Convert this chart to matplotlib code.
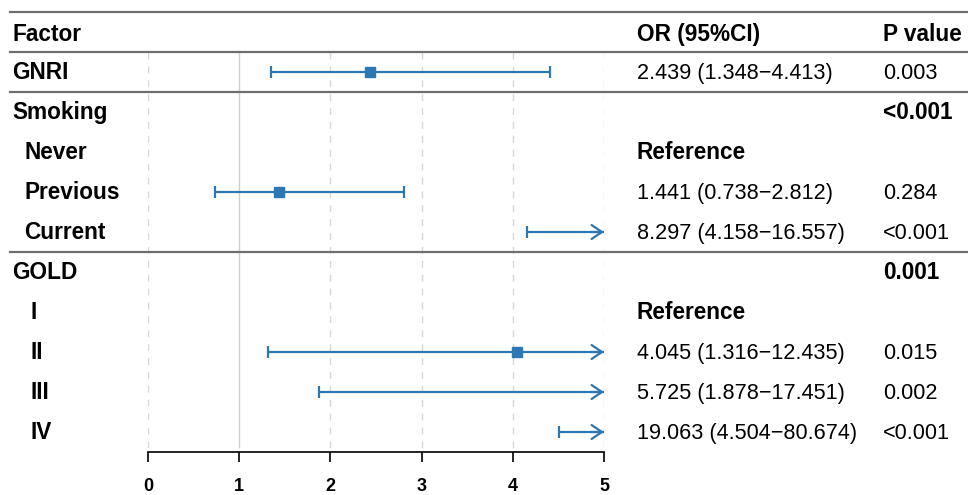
import numpy as np
import matplotlib
matplotlib.use("Agg")
import matplotlib.pyplot as plt
from matplotlib.transforms import blended_transform_factory

plt.rcParams['font.family'] = ['Liberation Sans', 'DejaVu Sans']

# Table content
labels = ['GNRI', 'Smoking', 'Never', 'Previous', 'Current',
          'GOLD', 'I', 'II', 'III', 'IV']
level = [0, 0, 1, 1, 1, 0, 2, 2, 2, 2]
is_ref = [False, False, True, False, False, False, True, False, False, False]
odds = [2.439, np.nan, np.nan, 1.441, 8.297, np.nan, np.nan, 4.045, 5.725, 19.063]
ci_lo = [1.348, np.nan, np.nan, 0.738, 4.158, np.nan, np.nan, 1.316, 1.878, 4.504]
ci_hi = [4.413, np.nan, np.nan, 2.812, 16.557, np.nan, np.nan, 12.435, 17.451, 80.674]
p_values = ['0.003', '<0.001', '', '0.284', '<0.001', '0.001', '', '0.015', '0.002', '<0.001']
x_ticks = [0, 1, 2, 3, 4, 5]

blue = '#2b78b5'
W, H = 968, 495
fig = plt.figure(figsize=(W / 100, H / 100), dpi=100)

# forest axes: x 0..5 from px 148 to 604; rows from y=12 (top) to y=452 (axis)
ax = fig.add_axes([148 / W, (H - 452) / H, (604 - 148) / W, 440 / H])
ax.set_xlim(0, 5)
ax.set_ylim(10.5, -0.5)
for s in ['top', 'right', 'left']:
    ax.spines[s].set_visible(False)
ax.spines['bottom'].set_linewidth(1.2)
ax.set_yticks([])
ax.set_xticks(x_ticks)
ax.set_xticklabels([str(t) for t in x_ticks], fontsize=13, fontweight='bold')
ax.tick_params(axis='x', length=7.5, width=1.2, pad=11)

# vertical reference lines
for t in x_ticks:
    if t == 1:
        ax.vlines(t, 0.5, 10.4, color='#cfcfcf', lw=1.0, zorder=0)
    else:
        ax.vlines(t, 0.5, 10.4, color='#d8d8d8', lw=1.0, ls=(0, (5, 5)), zorder=0)

rows = np.arange(len(labels)) + 1  # header is row 0
xmax = 5
for r, o, lo, hi in zip(rows, odds, ci_lo, ci_hi):
    if np.isnan(lo):
        continue
    right = min(hi, xmax)
    ax.plot([lo, right], [r, r], color=blue, lw=1.6, solid_capstyle='butt', zorder=2)
    ax.plot([lo], [r], marker='|', ms=9, mew=1.6, color=blue, zorder=2)
    if hi <= xmax:
        ax.plot([hi], [r], marker='|', ms=9, mew=1.6, color=blue, zorder=2)
    else:
        ax.annotate('', xy=(xmax, r), xytext=(xmax - 0.15, r),
                    arrowprops=dict(arrowstyle='->,head_length=0.75,head_width=0.5',
                                    color=blue, lw=1.6, shrinkA=0, shrinkB=0,
                                    mutation_scale=10))
    if o <= xmax:
        ax.plot([o], [r], marker='s', ms=7, color=blue, zorder=3)

# table text (baseline a bit below row centre)
tr = blended_transform_factory(fig.transFigure, ax.transData)
fs_b, fs_r = 16.3, 15.6
dy = 0.18
x_factor, x_or, x_p = 12 / W, 637 / W, 883 / W
indent = [12 / W, 24 / W, 30 / W]
for x, head in zip([x_factor, x_or, x_p], ['Factor', 'OR (95%CI)', 'P value']):
    ax.text(x, 0 + dy + 0.04, head, transform=tr, fontsize=fs_b, fontweight='bold', va='baseline')
for r, lab, lv, ref, o, lo, hi, p in zip(rows, labels, level, is_ref, odds, ci_lo, ci_hi, p_values):
    ax.text(indent[lv], r + dy, lab, transform=tr, fontsize=fs_b, fontweight='bold', va='baseline')
    if ref:
        ax.text(x_or, r + dy, 'Reference', transform=tr, fontsize=fs_b,
                fontweight='bold', va='baseline')
    elif not np.isnan(o):
        ax.text(x_or, r + dy, f'{o:.3f} ({lo:.3f}\u2212{hi:.3f})', transform=tr,
                fontsize=fs_r, va='baseline')
    if p:
        group = lv == 0 and np.isnan(o)
        ax.text(x_p, r + dy, p, transform=tr, va='baseline',
                fontsize=fs_b if group else fs_r,
                fontweight='bold' if group else 'normal')

# horizontal separators
for y in [-0.5, 0.5, 1.5, 5.5]:
    ax.plot([10 / W, 1.0], [y, y], transform=tr, color='#6e6e6e', lw=1.6,
            clip_on=False, zorder=4)

fig.savefig('out.png', dpi=100)
